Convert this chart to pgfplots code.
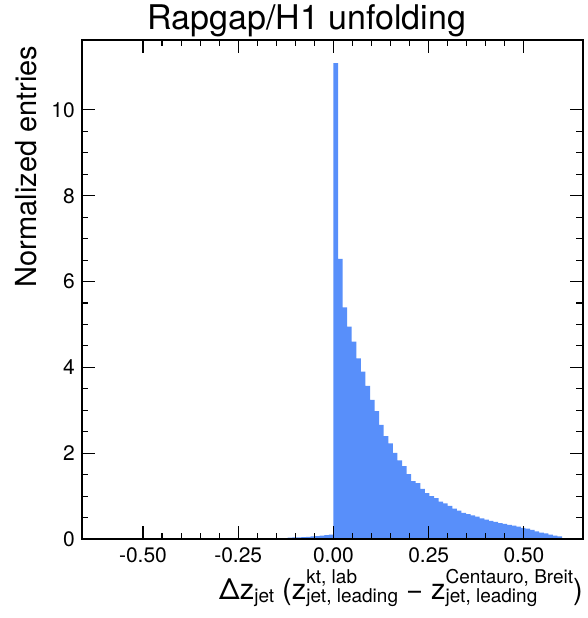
\documentclass[border=0pt]{standalone}
\usepackage{pgfplots}
\pgfplotsset{compat=1.18}
\usepackage{fontspec}
\setmainfont{TeX Gyre Heros}
\definecolor{histblue}{RGB}{88,143,250}
% stacked super/subscript in the text font
\newcommand\supsub[2]{\ooalign{\raisebox{16pt}{\fontsize{19}{19}\selectfont #1}\cr\raisebox{-3pt}{\fontsize{19}{19}\selectfont #2}\cr}}

\begin{document}
\begin{tikzpicture}
\useasboundingbox (-82pt,-79pt) rectangle (506pt,539pt);
\begin{axis}[
    scale only axis, width=501pt, height=499pt,
    xmin=-0.66, xmax=0.655, ymin=0, ymax=11.63,
    axis on top,
    axis line style={line width=1.6pt},
    every tick/.style={black, line width=1.1pt},
    major tick length=13pt, minor tick length=6.5pt,
    xtick={-0.5,-0.25,0,0.25,0.5},
    xticklabels={-0.50,-0.25,0.00,0.25,0.50},
    minor x tick num=4,
    ytick={0,2,4,6,8,10},
    yticklabels={0,2,4,6,8,10},
    minor y tick num=3,
    tick label style={font=\fontsize{21}{25}\selectfont},
    xticklabel style={inner sep=0pt, yshift=-8pt},
    yticklabel style={inner sep=0pt, xshift=-7pt},
]
\addplot[ybar interval, fill=histblue, draw=none] coordinates {
    (-0.192,0.010) (-0.180,0.012) (-0.168,0.015) (-0.156,0.018)
    (-0.144,0.020) (-0.132,0.022) (-0.120,0.030) (-0.108,0.035)
    (-0.096,0.040) (-0.084,0.045) (-0.072,0.050) (-0.060,0.060)
    (-0.048,0.065) (-0.036,0.080) (-0.024,0.090) (-0.012,0.100)
    (0.000,11.09) (0.012,6.53) (0.024,5.40) (0.036,4.95) (0.048,4.60)
    (0.060,4.21) (0.072,3.90) (0.084,3.57) (0.096,3.24) (0.108,2.98)
    (0.120,2.66) (0.132,2.40) (0.144,2.23) (0.156,2.01) (0.168,1.83)
    (0.180,1.70) (0.192,1.51) (0.204,1.35) (0.216,1.30) (0.228,1.17)
    (0.240,1.07) (0.252,1.00) (0.264,0.95) (0.276,0.87) (0.288,0.83)
    (0.300,0.77) (0.312,0.71) (0.324,0.66) (0.336,0.61) (0.348,0.58)
    (0.360,0.55) (0.372,0.52) (0.384,0.48) (0.396,0.45) (0.408,0.42)
    (0.420,0.40) (0.432,0.37) (0.444,0.35) (0.456,0.33) (0.468,0.31)
    (0.480,0.29) (0.492,0.26) (0.504,0.24) (0.516,0.21) (0.528,0.18)
    (0.540,0.15) (0.552,0.13) (0.564,0.10) (0.576,0.08) (0.588,0.06)
    (0.600,0.06)
};
\end{axis}
% labels around the axis (axis box runs from (0,0) to (501pt,499pt))
\node[anchor=base, font=\fontsize{34}{40}\selectfont] at (225pt,509pt) {Rapgap/H1 unfolding};
\node[rotate=90, anchor=base east, font=\fontsize{29}{34}\selectfont] at (-45pt,497pt) {Normalized entries};
\node[anchor=base east, inner sep=0pt, font=\fontsize{29}{34}\selectfont] at (501pt,-60pt)
    {Δz\raisebox{-3pt}{\fontsize{19}{19}\selectfont jet} (z\supsub{kt, lab}{jet, leading} − z\supsub{Centauro, Breit}{jet, leading})};
\end{tikzpicture}
\end{document}
